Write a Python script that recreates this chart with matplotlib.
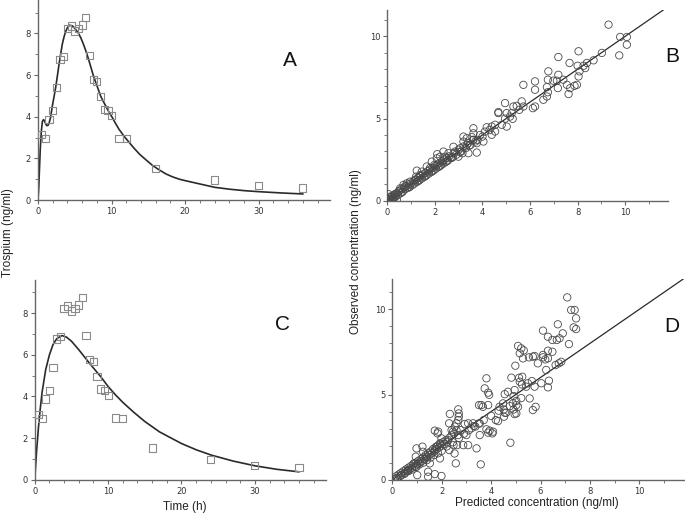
import numpy as np
import matplotlib
matplotlib.use('Agg')
import matplotlib.pyplot as plt
from matplotlib.ticker import MultipleLocator

plt.rcParams['font.family'] = ['Liberation Sans', 'DejaVu Sans']

# ── observed concentrations (panels A and C) ──
t_obs = [0.5, 1, 1.5, 2, 2.5, 3, 3.5, 4, 4.5, 5, 5.5, 6, 6.5, 7, 7.5, 8, 8.5, 9,
         9.5, 10, 11, 12, 16, 24, 30, 36]
c_obs = [3.13, 2.94, 3.88, 4.28, 5.40, 6.76, 6.87, 8.24, 8.35, 8.11, 8.24, 8.40,
         8.75, 6.92, 5.77, 5.67, 4.95, 4.36, 4.28, 4.04, 2.97, 2.94, 1.52, 0.96,
         0.69, 0.58]

# ── model curve, panel A ──
t_fit_a = [0, 0.1, 0.2, 0.3, 0.45, 0.6, 0.75, 0.9, 1.05, 1.2, 1.35, 1.5, 1.7, 1.95,
           2.2, 2.4, 2.65, 2.86, 3.1, 3.3, 3.55, 3.77, 4.0, 4.3, 4.67, 5.1, 5.45,
           5.8, 6.15, 6.5, 6.85, 7.2, 7.5, 7.85, 8.2, 8.5, 8.85, 9.2, 9.6, 10.1,
           10.5, 11.0, 11.7, 12.4, 13.1, 13.8, 14.7, 15.6, 16.5, 17.4, 18.3,
           19.2, 20, 22, 24, 26, 28, 30, 33, 36]
c_fit_a = [0, 0.6, 1.5, 2.4, 3.3, 3.78, 3.86, 3.78, 3.65, 3.57, 3.58, 3.68, 3.95,
           4.52, 5.0, 5.4, 6.0, 6.52, 7.05, 7.48, 7.85, 8.1, 8.27, 8.39, 8.36, 8.2,
           8.03, 7.8, 7.5, 7.16, 6.78, 6.36, 6.0, 5.64, 5.3, 5.0, 4.75, 4.52, 4.25,
           3.96, 3.7, 3.4, 3.06, 2.76, 2.47, 2.2, 1.92, 1.65, 1.44, 1.25, 1.11,
           1.0, 0.93, 0.77, 0.61, 0.52, 0.45, 0.40, 0.34, 0.29]

# ── model curve, panel C ──
t_fit_c = [0, 0.25, 0.5, 0.75, 1, 1.5, 2, 2.5, 3, 3.7, 4.3, 5, 6, 7.5, 9, 10, 11, 12,
           13.5, 15, 17, 20, 22, 24, 27, 30, 33, 36]
c_fit_c = [0, 1.35, 2.48, 3.4, 4.2, 5.3, 6.0, 6.5, 6.78, 6.93, 6.86, 6.66, 6.25,
           5.58, 4.95, 4.48, 4.08, 3.72, 3.24, 2.80, 2.30, 1.74, 1.44, 1.19, 0.9,
           0.67, 0.5, 0.38]

# ── panel B: predicted vs observed ──
pred_b = [9.30, 9.79, 10.07, 10.07, 9.75, 9.02, 8.67, 8.39, 8.25, 8.04, 8.0, 8.32,
          8.08, 8.04, 7.97, 7.87, 7.66, 7.62, 7.69, 7.55, 7.40, 7.19, 7.19, 7.17,
          7.13, 6.98, 6.77, 6.75, 6.71, 6.71, 6.75, 6.56, 6.21, 6.21, 6.21, 6.12,
          5.72, 5.72, 5.65, 5.55, 5.44, 5.30, 5.23, 5.02, 4.95, 5.16, 5.27, 4.95,
          4.67, 5.02, 4.81, 4.53, 4.39, 4.18, 4.67, 4.53, 4.39, 4.04, 4.0, 3.62,
          3.62, 3.62, 3.55, 3.76, 3.76, 3.34, 3.20, 3.20, 3.34, 3.41, 3.16, 3.06,
          2.99, 2.85, 2.78, 2.67, 2.57, 2.36, 2.22, 2.10, 2.43, 2.08, 1.98, 1.87,
          1.80, 1.66, 1.45, 1.24, 1.21, 1.38, 1.17, 0.96, 0.82, 0.68, 0.75, 0.54,
          0.47, 0.33, 0.26, 0.12, 0.0, 0.05, 0.19, 0.40,
          0.05, 0.1, 0.15, 0.2, 0.25, 0.3, 0.35, 0.4, 0.45, 0.5, 0.55, 0.6, 0.65,
          0.7, 0.75, 0.8, 0.85, 0.9, 0.95, 1.0, 1.05, 1.1, 1.15, 1.2, 1.25, 1.3,
          1.35, 1.4, 1.45, 1.5, 1.55, 1.6, 1.65, 1.7, 1.75, 1.8, 1.85, 1.9, 1.95,
          2.0, 2.05, 2.1, 2.15, 2.2, 2.25, 2.3, 2.35, 2.4, 2.45, 2.5, 2.55, 2.6,
          2.7, 2.8, 2.9, 3.0, 3.1, 3.2, 3.3, 3.4, 3.5, 3.6, 3.8, 3.9, 4.1, 4.3,
          0.3, 0.6, 0.9, 1.3, 1.6, 1.9, 2.2, 2.5, 2.75, 3.05, 3.45, 3.7]
obs_b = [10.71, 9.96, 9.96, 9.49, 8.84, 8.99, 8.54, 8.38, 8.21, 9.09, 8.21, 8.07,
         7.87, 7.56, 7.05, 6.99, 8.38, 6.49, 6.85, 7.05, 7.36, 7.66, 8.74, 6.85,
         7.30, 7.30, 7.87, 7.36, 6.91, 6.34, 6.60, 6.14, 7.26, 6.75, 5.73, 5.63,
         7.05, 5.73, 6.04, 5.53, 5.77, 5.73, 5.33, 5.33, 5.94, 5.12, 4.98, 4.99,
         5.33, 4.51, 4.62, 4.62, 4.51, 4.47, 5.39, 4.21, 4.01, 3.60, 3.90, 4.41,
         4.10, 3.70, 3.87, 3.50, 2.93, 3.80, 3.90, 3.60, 3.40, 2.89, 2.89, 3.19,
         2.68, 2.99, 3.28, 2.64, 2.89, 2.99, 2.68, 2.83, 2.68, 2.58, 2.18, 2.38,
         2.00, 2.08, 1.77, 1.83, 1.46, 1.57, 1.26, 1.16, 1.06, 0.96, 0.86, 0.75,
         0.55, 0.41, 0.25, 0.21, 0.15, 0.40, 0.02, 0.06,
         0.1, 0.2, 0.05, 0.3, 0.15, 0.35, 0.25, 0.45, 0.35, 0.6, 0.45, 0.7, 0.55,
         0.8, 0.7, 0.9, 0.8, 1.0, 0.85, 1.05, 0.95, 1.2, 1.05, 1.3, 1.15, 1.4,
         1.25, 1.5, 1.35, 1.6, 1.45, 1.7, 1.55, 1.8, 1.65, 1.9, 1.75, 2.0, 1.85,
         2.1, 1.95, 2.2, 2.05, 2.3, 2.15, 2.4, 2.25, 2.5, 2.35, 2.6, 2.45, 2.7,
         2.6, 2.9, 2.8, 3.1, 3.0, 3.3, 3.2, 3.5, 3.4, 3.7, 3.7, 4.0, 4.2, 4.3,
         0.2, 0.5, 0.8, 1.2, 1.5, 1.8, 2.1, 2.4, 2.65, 2.95, 3.35, 3.6]

# ── panel D: predicted vs observed ──
pred_d = [7.08, 7.24, 7.38, 7.44, 7.34, 7.44, 7.15, 6.90, 6.70, 6.77, 6.66, 6.48,
          6.30, 6.10, 6.84, 6.74, 6.61, 6.48, 6.30, 6.30, 6.23, 6.19, 6.10, 6.10,
          5.89, 5.76, 5.69, 5.53, 5.29, 5.32, 5.16, 5.22, 5.09, 4.98, 4.82, 5.26,
          5.16, 5.13, 5.25, 5.65, 6.03, 6.34, 6.30, 5.76, 5.49, 5.42, 5.22, 5.56,
          4.91, 4.95, 4.68, 4.55, 5.02, 4.88, 5.09, 4.76, 4.48, 4.34, 4.51, 4.61,
          4.91, 4.95, 5.02, 5.02, 4.55, 4.52, 5.69, 5.80, 4.19, 4.28, 3.81, 3.74,
          3.88, 3.92, 3.61, 3.67, 3.88, 3.54, 3.81, 3.94, 4.08, 3.88, 4.05, 3.51,
          3.27, 3.36, 3.20, 3.07, 2.93, 3.54, 3.41, 3.58, 4.78, 3.00, 2.77, 2.66,
          2.87, 3.07, 2.62, 2.48, 2.52, 2.57, 2.31, 2.26, 1.99, 1.86, 1.83, 1.93,
          1.79, 1.72, 1.93, 1.99, 1.72, 1.45, 1.45, 1.52, 1.36, 1.25, 1.22, 0.98,
          0.95, 0.87, 1.01, 0.98, 0.64, 2.67, 2.69, 2.69, 2.67, 2.60, 2.53, 2.46,
          2.33, 2.30, 2.40, 1.72,
          0.1, 0.15, 0.2, 0.25, 0.3, 0.35, 0.4, 0.45, 0.5, 0.55, 0.6, 0.65, 0.7,
          0.75, 0.8, 0.85, 0.9, 0.95, 1.0, 1.05, 1.1, 1.15, 1.2, 1.25, 1.3, 1.35,
          1.4, 1.45, 1.5, 1.55, 1.6, 1.65, 1.7, 1.75, 1.8, 1.85, 1.9, 1.95, 2.0,
          2.05, 2.1, 2.15, 2.2, 2.3, 2.4, 2.5, 2.6, 0.2, 0.35, 0.5, 0.65, 0.8,
          0.95, 1.1, 1.25, 1.4, 1.55, 1.7, 1.85, 2.0, 2.2, 2.45, 2.7, 2.9, 3.1,
          3.3, 3.5, 3.7, 4.0, 4.3]
obs_d = [10.70, 9.96, 9.96, 9.47, 8.94, 8.84, 7.96, 8.59, 9.12, 8.30, 8.20, 8.20,
         8.39, 8.75, 6.92, 6.83, 6.73, 7.51, 7.57, 7.12, 6.44, 7.06, 7.18, 7.32,
         6.83, 7.26, 7.22, 7.18, 7.12, 7.59, 7.42, 7.71, 7.85, 6.69, 5.99, 6.04,
         5.75, 5.98, 5.59, 5.79, 5.66, 5.81, 5.42, 5.46, 5.66, 5.46, 4.79, 4.77,
         4.91, 5.26, 5.16, 5.02, 4.62, 4.48, 4.28, 4.32, 4.48, 4.28, 4.12, 3.93,
         4.12, 3.85, 3.89, 4.38, 3.93, 3.70, 4.09, 4.28, 3.50, 3.44, 5.95, 5.36,
         5.11, 4.98, 4.38, 4.28, 4.38, 3.30, 2.96, 2.88, 2.82, 2.76, 2.72, 4.38,
         3.31, 3.12, 3.02, 3.31, 3.27, 2.62, 1.84, 0.90, 2.17, 2.62, 2.91, 2.62,
         2.03, 2.03, 2.03, 2.03, 1.54, 0.96, 1.74, 2.33, 2.43, 2.82, 2.72, 2.14,
         1.95, 1.74, 1.25, 0.22, 0.33, 0.18, 0.47, 0.96, 1.35, 1.64, 1.94, 1.84,
         1.35, 0.96, 0.27, 0.76, 0.57, 4.13, 3.89, 3.70, 3.50, 3.31, 3.12, 2.82,
         3.86, 3.31, 2.91, 2.88,
         0.05, 0.2, 0.1, 0.3, 0.2, 0.4, 0.3, 0.5, 0.4, 0.6, 0.5, 0.7, 0.6, 0.8,
         0.7, 0.9, 0.8, 1.0, 0.9, 1.1, 1.0, 1.2, 1.1, 1.3, 1.2, 1.45, 1.3, 1.55,
         1.45, 1.65, 1.55, 1.8, 1.65, 1.9, 1.8, 2.0, 1.9, 2.1, 2.0, 2.2, 2.1,
         2.3, 2.2, 2.45, 2.6, 2.7, 2.9, 0.1, 0.25, 0.35, 0.5, 0.6, 0.75, 0.9,
         1.0, 1.15, 1.3, 1.45, 1.55, 1.7, 1.95, 2.2, 2.45, 2.7, 2.9, 3.15, 3.3,
         3.5, 3.75, 4.05]

line_xy = [0, 12]

fig = plt.figure(figsize=(6.85, 5.16), dpi=100)
ax_a = fig.add_axes([0.0555, 0.6124, 0.4263, 0.3876])
ax_c = fig.add_axes([0.0507, 0.0703, 0.4253, 0.3871])
ax_b = fig.add_axes([0.5654, 0.611, 0.4098, 0.3696])
ax_d = fig.add_axes([0.5727, 0.0703, 0.4263, 0.3884])

sq = dict(marker='s', s=27, facecolors='none', edgecolors='#8a8a8a', linewidths=0.8, zorder=3)
ci = dict(marker='o', s=28, facecolors='none', edgecolors='#4a4a4a', linewidths=0.6, zorder=3)

ax_a.plot(t_fit_a, c_fit_a, color='#2a2a2a', lw=1.2)
ax_a.scatter(t_obs, c_obs, **sq)
ax_c.plot(t_fit_c, c_fit_c, color='#2a2a2a', lw=1.2)
ax_c.scatter(t_obs, c_obs, **sq)
ax_b.scatter(pred_b, obs_b, **ci)
ax_b.plot(line_xy, line_xy, color='#2a2a2a', lw=0.9)
ax_d.scatter(pred_d, obs_d, **ci)
ax_d.plot(line_xy, line_xy, color='#2a2a2a', lw=0.9)

for ax in (ax_a, ax_c):
    ax.set_xlim(0, 39.7)
    ax.set_ylim(0, 9.6)
    ax.xaxis.set_major_locator(MultipleLocator(10))
    ax.xaxis.set_minor_locator(MultipleLocator(2))
    ax.yaxis.set_major_locator(MultipleLocator(2))
    ax.yaxis.set_minor_locator(MultipleLocator(1))
ax_b.set_xlim(0, 11.8)
ax_b.set_ylim(0, 11.6)
ax_d.set_xlim(0, 11.82)
ax_d.set_ylim(0, 11.76)
for ax in (ax_b, ax_d):
    ax.xaxis.set_major_locator(MultipleLocator(2))
    ax.xaxis.set_minor_locator(MultipleLocator(1))
    ax.yaxis.set_major_locator(MultipleLocator(5))
    ax.yaxis.set_minor_locator(MultipleLocator(1))

for ax in (ax_a, ax_b, ax_c, ax_d):
    ax.patch.set_alpha(0)
    for s in ('top', 'right'):
        ax.spines[s].set_visible(False)
    for s in ('left', 'bottom'):
        ax.spines[s].set_color('#666666')
        ax.spines[s].set_linewidth(1.0)
    ax.tick_params(which='major', direction='out', length=3, width=0.8,
                   color='#666666', labelsize=6, labelcolor='#333333', pad=2)
    ax.tick_params(which='minor', direction='out', length=2, width=0.6, color='#666666')
    for lab in ax.get_xticklabels() + ax.get_yticklabels():
        lab.set_family(['DejaVu Sans'])

# panel letters
for letter, px, py in [('A', 290, 60), ('B', 672, 57), ('C', 283, 325), ('D', 672, 326)]:
    fig.text(px / 685, 1 - py / 516, letter, fontsize=15, ha='center', va='center',
             color='#111111')

fig.text(8 / 685, 1 - 233 / 516, 'Trospium (ng/ml)', rotation=90, fontsize=8.5,
         ha='center', va='center', color='#222222')
fig.text(356 / 685, 1 - 252 / 516, 'Observed concentration (ng/ml)', rotation=90,
         fontsize=8.5, ha='center', va='center', color='#222222')
fig.text(185 / 685, 1 - 507 / 516, 'Time (h)', fontsize=8.5, ha='center', va='center',
         color='#222222')
fig.text(537 / 685, 1 - 503 / 516, 'Predicted concentration (ng/ml)', fontsize=8.5,
         ha='center', va='center', color='#222222')

fig.savefig('out.png', dpi=100)
